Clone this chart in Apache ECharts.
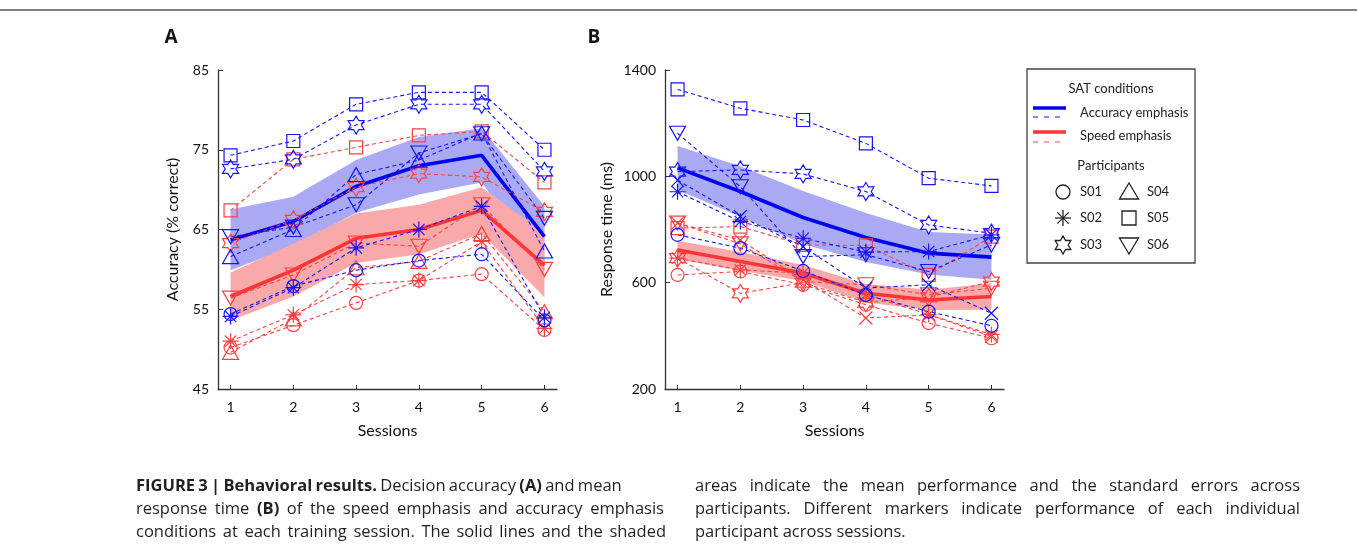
<!DOCTYPE html>
<html><head><meta charset="utf-8">
<script src="https://cdn.jsdelivr.net/npm/echarts@6/dist/echarts.min.js"></script>
<style>
body{margin:0;background:#fff;width:1357px;height:554px;overflow:hidden;position:relative}
#chart{position:absolute;left:0;top:0;width:1357px;height:554px}
.cap{position:absolute;font-family:'Open Sans',sans-serif;font-size:16.5px;line-height:23px;color:#231f20;white-space:nowrap}
.cap b{font-weight:700}
</style></head><body>
<div id="chart"></div>
<div class="cap" data-w="430" style="left:136px;top:473px"><b>FIGURE 3 | Behavioral results.</b> Decision accuracy <b>(A)</b> and mean</div>
<div class="cap" data-w="528" style="left:136px;top:496px">response time <b>(B)</b> of the speed emphasis and accuracy emphasis</div>
<div class="cap" data-w="530" style="left:136px;top:519px">conditions at each training session. The solid lines and the shaded</div>
<div class="cap" data-w="605" style="left:695px;top:473px">areas indicate the mean performance and the standard errors across</div>
<div class="cap" data-w="605" style="left:695px;top:496px">participants. Different markers indicate performance of each individual</div>
<div class="cap" style="left:695px;top:519px">participant across sessions.</div>
<script>
// ---------------- DATA ----------------
const sessions = [1, 2, 3, 4, 5, 6];
const participants = ['S01', 'S02', 'S03', 'S04', 'S05', 'S06'];
const accTicks = [45, 55, 65, 75, 85];
const rtTicks = [200, 600, 1000, 1400];

// Panel A: accuracy (% correct), rows S01..S06
const accAccuracyEmph = [
  [54.4, 57.9, 59.9, 61.1, 61.9, 53.6],
  [54.1, 57.7, 62.7, 65.0, 67.9, 54.0],
  [72.6, 73.8, 78.1, 80.7, 80.7, 72.3],
  [61.6, 65.0, 71.9, 73.7, 77.1, 62.3],
  [74.3, 76.1, 80.7, 82.2, 82.2, 75.0],
  [64.1, 65.3, 68.1, 74.6, 77.0, 66.4]
];
const accSpeedEmph = [
  [50.2, 53.0, 55.8, 58.6, 59.4, 52.4],
  [51.0, 54.3, 58.1, 58.6, 63.5, 52.6],
  [63.3, 66.2, 70.3, 72.0, 71.6, 67.2],
  [49.6, 53.8, 60.2, 61.0, 64.5, 54.7],
  [67.4, 73.8, 75.3, 76.8, 77.3, 70.9],
  [56.4, 59.3, 63.3, 62.9, 68.1, 60.0]
];
const accMeanAccuracy = [63.7, 66.0, 70.4, 73.0, 74.3, 64.1];
const accSeAccuracy = [3.8, 3.1, 3.3, 3.6, 3.4, 3.8];
const accMeanSpeed = [56.6, 59.9, 63.9, 65.0, 67.4, 60.5];
const accSeSpeed = [3.0, 3.3, 3.1, 3.1, 2.9, 4.0];

// Panel B: response time (ms), rows S01..S06
const rtAccuracyEmph = [
  [780, 730, 644, 554, 491, 438],
  [942, 830, 767, 715, 717, 780],
  [1018, 1024, 1009, 943, 817, 786],
  [985, 849, 735, 580, 592, 485],
  [1327, 1256, 1212, 1124, 993, 964],
  [1162, 961, 698, 705, 642, 742]
];
const rtSpeedEmph = [
  [629, 642, 592, 517, 448, 391],
  [692, 648, 636, 555, 480, 405],
  [692, 560, 600, 525, 545, 604],
  [824, 760, 610, 467, 479, 398],
  [805, 811, 742, 740, 629, 773],
  [824, 746, 604, 592, 554, 579]
];
const rtMeanAccuracy = [1032, 943, 845, 770, 711, 696];
const rtSeAccuracy = [82, 95, 100, 92, 80, 85];
const rtMeanSpeed = [723, 680, 636, 560, 535, 548];
const rtSeSpeed = [35, 35, 30, 35, 38, 50];

// ---------------- STYLE ----------------
const BLUE = '#1515ff', BLUE_MEAN = '#0000f0', BLUE_BAND = '#aaaaf4';
const RED = '#ff4040', RED_MEAN = '#ff3535', RED_BAND = '#f9a9a9';
const FONT = 'Lato';

const STAR = 'path://M50,0L64.43,25L93.3,25L78.87,50L93.3,75L64.43,75L50,100L35.57,75L6.7,75L21.13,50L6.7,25L35.57,25Z';
const ASTER = 'path://M5,0L5,10M0,5L10,5M1.46,1.46L8.54,8.54M8.54,1.46L1.46,8.54';
const XMARK = 'path://M0,0L10,10M10,0L0,10';
const TRI_UP = 'path://M5,0L10,8.66L0,8.66Z';
const TRI_DN = 'path://M0,0L10,0L5,8.66Z';

const symbolsA = [
  ['circle', 13], [ASTER, 16], [STAR, [16, 18]], [TRI_UP, [16, 14]], ['rect', 13], [TRI_DN, [16, 14]]
];
const symbolsB = [
  ['circle', 13], [ASTER, 16], [STAR, [16, 18]], [XMARK, 13], ['rect', 13], [TRI_DN, [16, 14]]
];

function participantSeries(rows, color, idx, syms, tag) {
  return rows.map((row, p) => ({
    name: tag + participants[p],
    type: 'line', xAxisIndex: idx, yAxisIndex: idx,
    data: sessions.map((s, i) => [s, row[i]]),
    symbol: syms[p][0], symbolSize: syms[p][1],
    showSymbol: true,
    itemStyle: { color: 'rgba(0,0,0,0)', borderColor: color, borderWidth: 1.2 },
    lineStyle: { color: color, width: 1.1, type: [4, 3] },
    z: 4, silent: true, animation: false
  }));
}
function meanSeries(mean, color, idx, tag) {
  return {
    name: tag, type: 'line', xAxisIndex: idx, yAxisIndex: idx,
    data: sessions.map((s, i) => [s, mean[i]]),
    symbol: 'none', lineStyle: { color: color, width: 3.6 }, z: 3, silent: true, animation: false
  };
}
function bandSeries(mean, se, color, idx, tag) {
  return {
    name: tag, type: 'custom', xAxisIndex: idx, yAxisIndex: idx,
    data: sessions.map((s, i) => [s, mean[i]]),
    renderItem: function (params, api) {
      if (params.dataIndex !== 0) return null;
      const up = sessions.map((s, i) => api.coord([s, mean[i] + se[i]]));
      const lo = sessions.map((s, i) => api.coord([s, mean[i] - se[i]])).reverse();
      return { type: 'polygon', shape: { points: up.concat(lo) }, style: { fill: color, stroke: null } };
    },
    z: 1, silent: true, animation: false
  };
}

function xAxisDef(idx) {
  return {
    type: 'value', gridIndex: idx, min: 0.8, max: 6.2,
    name: 'Sessions', nameLocation: 'middle', nameGap: 34,
    nameTextStyle: { fontFamily: FONT, fontSize: 16, color: '#111' },
    axisLine: { show: true, lineStyle: { color: '#333', width: 1.3 } },
    axisTick: { show: true, inside: true, length: 4, customValues: sessions, lineStyle: { color: '#333' } },
    axisLabel: { customValues: sessions, margin: 11, fontFamily: FONT, fontSize: 14, color: '#111', formatter: v => String(v) },
    splitLine: { show: false }
  };
}
function yAxisDef(idx, min, max, ticks, name, gap) {
  return {
    type: 'value', gridIndex: idx, min: min, max: max,
    name: name, nameLocation: 'middle', nameGap: gap, nameRotate: 90,
    nameTextStyle: { fontFamily: FONT, fontSize: 16, color: '#111' },
    axisLine: { show: true, lineStyle: { color: '#333', width: 1.3 } },
    axisTick: { show: true, inside: true, length: 5, customValues: ticks, lineStyle: { color: '#333' } },
    axisLabel: { customValues: ticks, margin: 9, fontFamily: FONT, fontSize: 14, color: '#111', formatter: v => String(v) },
    splitLine: { show: false }
  };
}

// ---------------- LEGEND GRAPHICS ----------------
const LK = '#222';
function legendMarker(kind, cx, cy) {
  const st = { fill: 'none', stroke: LK, lineWidth: 1.3 };
  if (kind === 0) return [{ type: 'circle', shape: { cx: cx, cy: cy, r: 7 }, style: st }];
  if (kind === 1) {
    const r = 8, d = 5.66;
    return [
      { type: 'line', shape: { x1: cx - r, y1: cy, x2: cx + r, y2: cy }, style: st },
      { type: 'line', shape: { x1: cx, y1: cy - r, x2: cx, y2: cy + r }, style: st },
      { type: 'line', shape: { x1: cx - d, y1: cy - d, x2: cx + d, y2: cy + d }, style: st },
      { type: 'line', shape: { x1: cx + d, y1: cy - d, x2: cx - d, y2: cy + d }, style: st }
    ];
  }
  if (kind === 2) {
    const pts = [];
    for (let k = 0; k < 12; k++) {
      const a = (-90 + k * 30) * Math.PI / 180;
      const rr = k % 2 === 0 ? 9 : 5.2;
      pts.push([cx + rr * Math.cos(a), cy + rr * Math.sin(a)]);
    }
    return [{ type: 'polygon', shape: { points: pts }, style: st }];
  }
  if (kind === 3) return [{ type: 'polygon', shape: { points: [[cx, cy - 9], [cx + 9.5, cy + 7], [cx - 9.5, cy + 7]] }, style: st }];
  if (kind === 4) return [{ type: 'rect', shape: { x: cx - 7, y: cy - 7, width: 14, height: 14 }, style: st }];
  return [{ type: 'polygon', shape: { points: [[cx - 9.5, cy - 7], [cx + 9.5, cy - 7], [cx, cy + 9]] }, style: st }];
}
const legendFont = { fontFamily: FONT, fontSize: 13, fill: '#222' };
const graphics = [
  { type: 'line', shape: { x1: 0, y1: 10, x2: 1357, y2: 10 }, style: { stroke: '#808080', lineWidth: 2 } },
  { type: 'text', x: 171, y: 38, style: { text: 'A', fontFamily: 'Open Sans', fontWeight: 'bold', fontSize: 19, fill: '#111', align: 'center', verticalAlign: 'middle' } },
  { type: 'text', x: 594, y: 38, style: { text: 'B', fontFamily: 'Open Sans', fontWeight: 'bold', fontSize: 19, fill: '#111', align: 'center', verticalAlign: 'middle' } },
  { type: 'rect', shape: { x: 1027, y: 69, width: 168, height: 194 }, style: { fill: '#fff', stroke: '#444', lineWidth: 1.3 } },
  { type: 'text', x: 1111, y: 89, style: Object.assign({ text: 'SAT conditions', align: 'center', verticalAlign: 'middle' }, legendFont) },
  { type: 'line', shape: { x1: 1033, y1: 108, x2: 1066, y2: 108 }, style: { stroke: BLUE_MEAN, lineWidth: 3.5 } },
  { type: 'line', shape: { x1: 1033, y1: 117, x2: 1066, y2: 117 }, style: { stroke: BLUE, lineWidth: 1.1, lineDash: [5, 6] } },
  { type: 'text', x: 1080, y: 113, style: Object.assign({ text: 'Accuracy emphasis', align: 'left', verticalAlign: 'middle' }, legendFont) },
  { type: 'line', shape: { x1: 1033, y1: 132, x2: 1066, y2: 132 }, style: { stroke: RED_MEAN, lineWidth: 3.5 } },
  { type: 'line', shape: { x1: 1033, y1: 142, x2: 1066, y2: 142 }, style: { stroke: RED, lineWidth: 1.1, lineDash: [5, 6] } },
  { type: 'text', x: 1080, y: 136, style: Object.assign({ text: 'Speed emphasis', align: 'left', verticalAlign: 'middle' }, legendFont) },
  { type: 'text', x: 1111, y: 166, style: Object.assign({ text: 'Participants', align: 'center', verticalAlign: 'middle' }, legendFont) }
];
const rowsY = [192, 218, 245];
participants.forEach((p, k) => {
  const col = k < 3 ? 0 : 1;
  const row = k % 3;
  const mx = col === 0 ? 1063 : 1129;
  const tx = col === 0 ? 1080 : 1147;
  legendMarker(k, mx, rowsY[row]).forEach(g => graphics.push(g));
  graphics.push({ type: 'text', x: tx, y: rowsY[row], style: Object.assign({ text: p, align: 'left', verticalAlign: 'middle' }, legendFont) });
});

// ---------------- CHART ----------------
const chart = echarts.init(document.getElementById('chart'), null, { renderer: 'canvas' });
const series = [].concat(
  [bandSeries(accMeanAccuracy, accSeAccuracy, BLUE_BAND, 0, 'bandA_acc'),
   bandSeries(accMeanSpeed, accSeSpeed, RED_BAND, 0, 'bandA_spd'),
   bandSeries(rtMeanAccuracy, rtSeAccuracy, BLUE_BAND, 1, 'bandB_acc'),
   bandSeries(rtMeanSpeed, rtSeSpeed, RED_BAND, 1, 'bandB_spd')],
  participantSeries(accSpeedEmph, RED, 0, symbolsA, 'A_spd_'),
  participantSeries(accAccuracyEmph, BLUE, 0, symbolsA, 'A_acc_'),
  participantSeries(rtSpeedEmph, RED, 1, symbolsB, 'B_spd_'),
  participantSeries(rtAccuracyEmph, BLUE, 1, symbolsB, 'B_acc_'),
  [meanSeries(accMeanAccuracy, BLUE_MEAN, 0, 'A_acc_mean'),
   meanSeries(accMeanSpeed, RED_MEAN, 0, 'A_spd_mean'),
   meanSeries(rtMeanAccuracy, BLUE_MEAN, 1, 'B_acc_mean'),
   meanSeries(rtMeanSpeed, RED_MEAN, 1, 'B_spd_mean')]
);
chart.setOption({
  animation: false,
  backgroundColor: '#fff',
  grid: [
    { left: 218, top: 70, width: 339, height: 319 },
    { left: 665, top: 70, width: 339, height: 319 }
  ],
  xAxis: [xAxisDef(0), xAxisDef(1)],
  yAxis: [
    yAxisDef(0, 45, 85, accTicks, 'Accuracy (% correct)', 37),
    yAxisDef(1, 200, 1400, rtTicks, 'Response time (ms)', 50)
  ],
  series: series,
  graphic: graphics
});

// ---------------- CAPTION JUSTIFICATION ----------------
function justify() {
  document.querySelectorAll('.cap[data-w]').forEach(el => {
    el.style.wordSpacing = '0px';
    const target = +el.dataset.w;
    const natural = el.getBoundingClientRect().width;
    const spaces = (el.textContent.match(/ /g) || []).length;
    if (spaces > 0) el.style.wordSpacing = Math.max(-1, (target - natural) / spaces) + 'px';
  });
}
justify();
if (document.fonts && document.fonts.ready) document.fonts.ready.then(justify);
</script>
</body></html>
